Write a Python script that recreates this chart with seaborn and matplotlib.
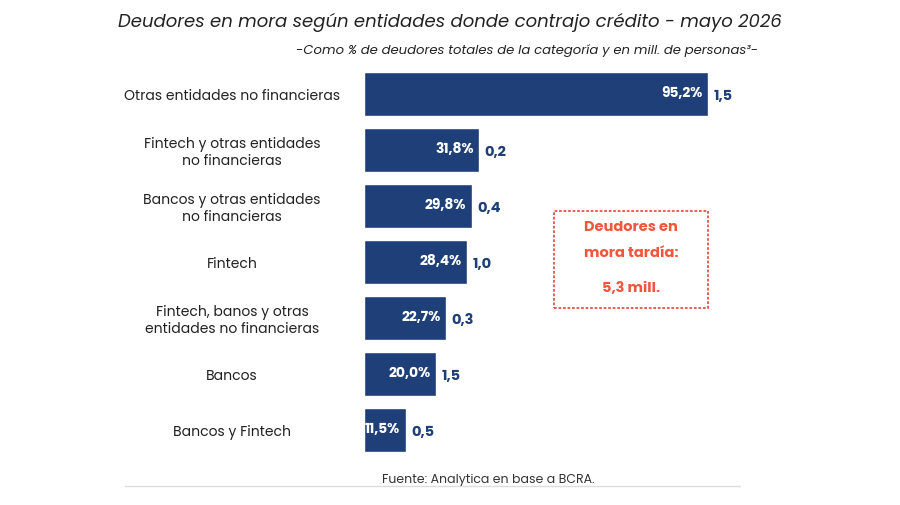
import matplotlib
matplotlib.use("Agg")
import matplotlib.pyplot as plt
import seaborn as sns
import pandas as pd
from matplotlib.patches import Rectangle

categorias = ["Otras entidades no financieras", "Fintech y otras entidades\nno financieras",
              "Bancos y otras entidades\nno financieras", "Fintech",
              "Fintech, banos y otras\nentidades no financieras", "Bancos", "Bancos y Fintech"]
porcentaje = [95.2, 31.8, 29.8, 28.4, 22.7, 20.0, 11.5]
millones = [1.5, 0.2, 0.4, 1.0, 0.3, 1.5, 0.5]

sns.set_theme(style="white")
plt.rcParams['font.family'] = ['Poppins', 'Lato', 'DejaVu Sans']
navy = "#1E3F78"
df = pd.DataFrame({"cat": categorias, "pct": porcentaje})

fig = plt.figure(figsize=(9, 5.05), dpi=100)
ax = fig.add_axes([364/900, 47/505, 506/900, 392/505])
sns.barplot(data=df, x="pct", y="cat", color=navy, width=0.79, ax=ax, saturation=1)
ax.set_xlim(0, 140)
ax.set_ylim(6.5, -0.5)
ax.set_xlabel(""); ax.set_ylabel("")
ax.set_xticks([])
for s in ax.spines.values():
    s.set_visible(False)
ax.tick_params(axis="y", length=0, pad=14, labelsize=10, labelcolor="#222222")
for lbl in ax.get_yticklabels():
    lbl.set_horizontalalignment("center")
    lbl.set_x(-0.0)
ax.tick_params(axis="y", pad=95)
for i, (p, m) in enumerate(zip(porcentaje, millones)):
    ax.text(p - 1.5, i, f"{p:.1f}%".replace(".", ","), color="white", fontweight="bold",
            ha="right", va="center", fontsize=10)
    ax.text(p + 1.5, i + 0.05, f"{m:.1f}".replace(".", ","), color=navy, fontweight="bold",
            ha="left", va="center", fontsize=10.5)

fig.text(0.5, 0.955, "Deudores en mora según entidades donde contrajo crédito - mayo 2026",
         ha="center", va="center", fontsize=13, style="italic", color="#222222")
fig.text(0.585, 0.9, "-Como % de deudores totales de la categoría y en mill. de personas³-",
         ha="center", va="center", fontsize=9.5, style="italic", color="#222222")

box = Rectangle((554/900, (505-308)/505), 154/900, 97/505, transform=fig.transFigure,
                fill=False, edgecolor="#E8524A", linestyle=(0, (1.5, 1)), linewidth=1.3)
fig.add_artist(box)
red = "#F0563F"
fig.text(631/900, 1-228/505, "Deudores en", ha="center", va="center", color=red, fontweight="bold", fontsize=10.5)
fig.text(631/900, 1-254/505, "mora tardía:", ha="center", va="center", color=red, fontweight="bold", fontsize=10.5)
fig.text(631/900, 1-289/505, "5,3 mill.", ha="center", va="center", color=red, fontweight="bold", fontsize=10.5)

fig.add_artist(plt.Line2D([125/900, 740/900], [1-486/505]*2, transform=fig.transFigure, color="#DDDDDD", lw=1))
fig.text(488/900, 1-480/505, "Fuente: Analytica en base a BCRA.", ha="center", va="center", fontsize=9, color="#333333")

fig.savefig("out.png", dpi=100, facecolor="white")
